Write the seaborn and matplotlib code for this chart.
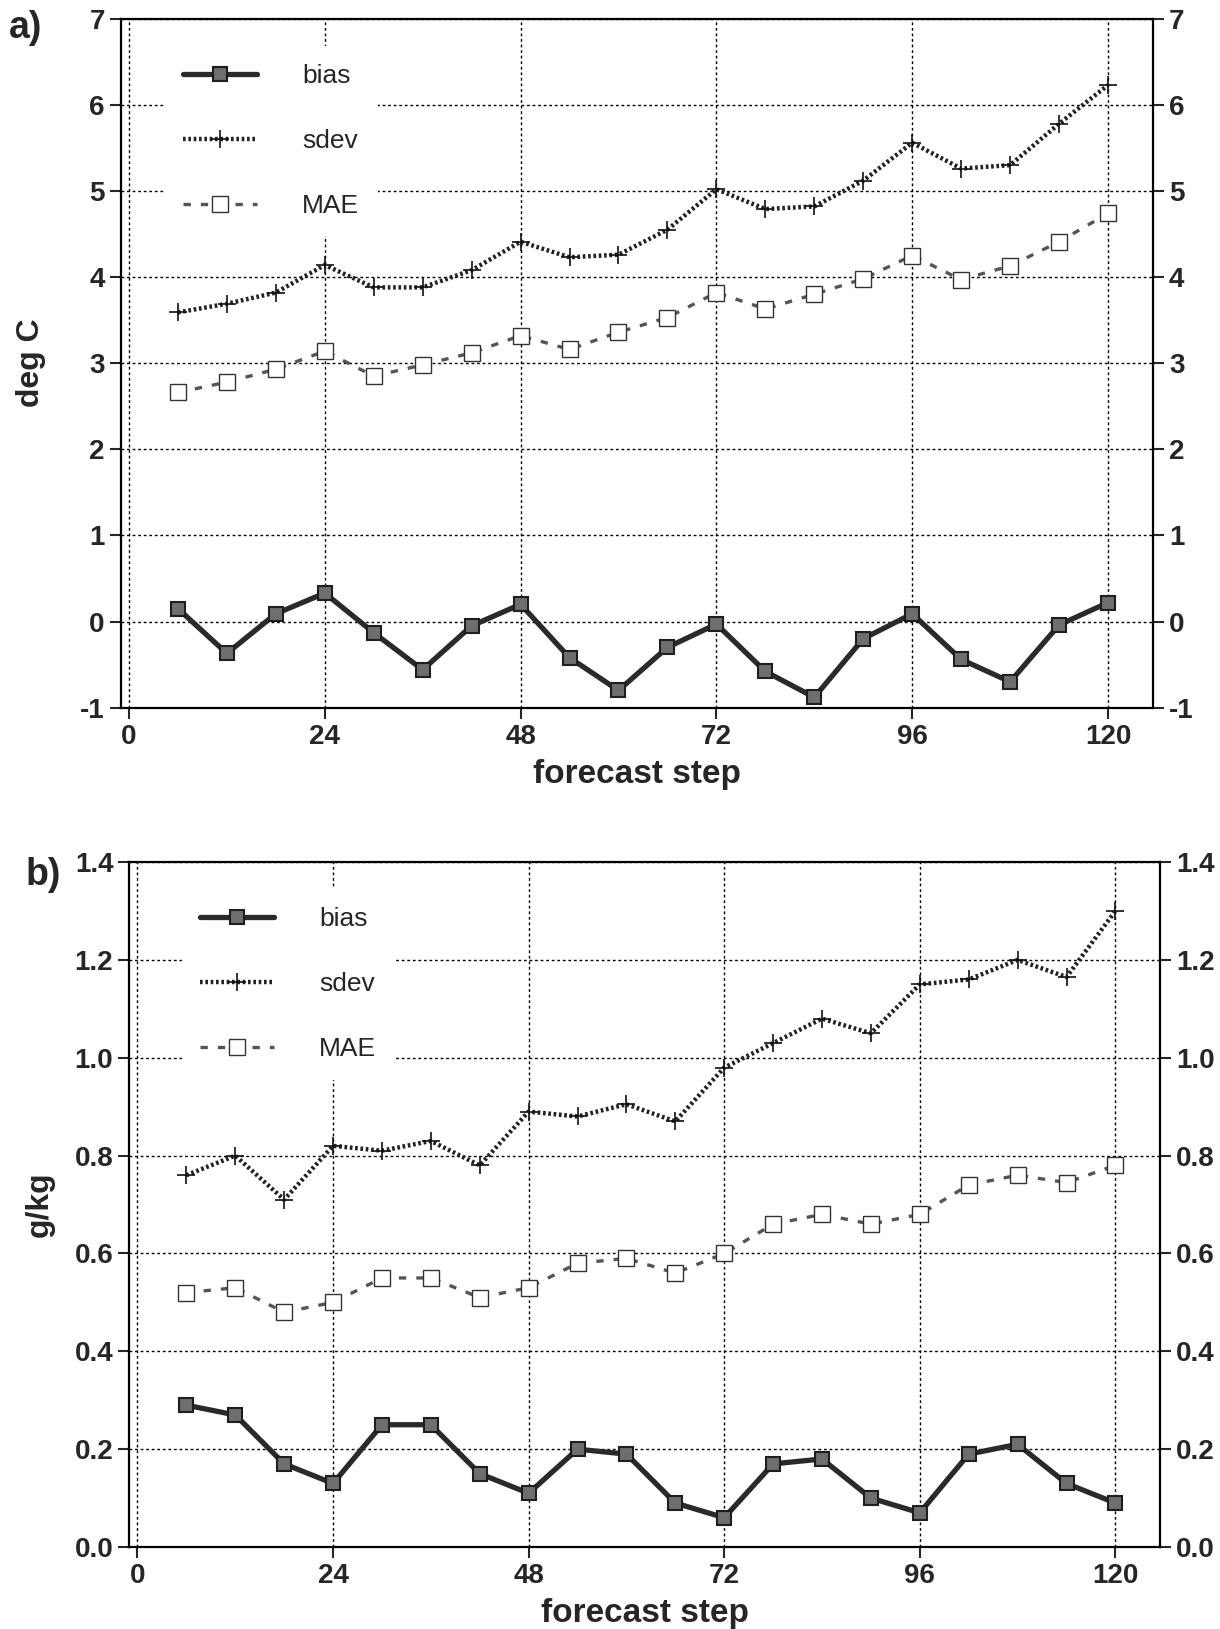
import matplotlib
matplotlib.use("Agg")
from matplotlib import pyplot as plt
import pandas as pd
import seaborn as sns

# forecast steps (hours)
steps = [6, 12, 18, 24, 30, 36, 42, 48, 54, 60, 66, 72, 78, 84, 90, 96, 102, 108, 114, 120]

# a) temperature, deg C
bias_t = [0.15, -0.37, 0.09, 0.33, -0.13, -0.56, -0.05, 0.20, -0.42, -0.80,
          -0.30, -0.03, -0.58, -0.88, -0.20, 0.09, -0.44, -0.70, -0.04, 0.22]
sdev_t = [3.59, 3.69, 3.82, 4.14, 3.88, 3.88, 4.08, 4.41, 4.23, 4.26,
          4.55, 5.02, 4.79, 4.82, 5.12, 5.56, 5.26, 5.30, 5.78, 6.23]
mae_t = [2.66, 2.78, 2.93, 3.14, 2.85, 2.98, 3.12, 3.32, 3.16, 3.36,
         3.53, 3.82, 3.63, 3.80, 3.98, 4.25, 3.97, 4.13, 4.41, 4.74]

# b) humidity, g/kg
bias_q = [0.29, 0.27, 0.17, 0.13, 0.25, 0.25, 0.15, 0.11, 0.20, 0.19,
          0.09, 0.06, 0.17, 0.18, 0.10, 0.07, 0.19, 0.21, 0.13, 0.09]
sdev_q = [0.76, 0.80, 0.71, 0.82, 0.81, 0.83, 0.78, 0.89, 0.88, 0.905,
          0.87, 0.98, 1.03, 1.08, 1.05, 1.15, 1.16, 1.20, 1.165, 1.30]
mae_q = [0.52, 0.53, 0.48, 0.50, 0.55, 0.55, 0.51, 0.53, 0.58, 0.59,
         0.56, 0.60, 0.66, 0.68, 0.66, 0.68, 0.74, 0.76, 0.745, 0.78]

xticks = [0, 24, 48, 72, 96, 120]
yticks_t = [-1, 0, 1, 2, 3, 4, 5, 6, 7]
yticks_q = [0.0, 0.2, 0.4, 0.6, 0.8, 1.0, 1.2, 1.4]

sns.set_style('white')
plt.rcParams['font.family'] = ['Liberation Sans Narrow', 'Liberation Sans', 'DejaVu Sans']

fig = plt.figure(figsize=(12.2, 16.29), dpi=100)
ax1 = fig.add_axes([0.099, 0.5656, 0.846, 0.4229])
ax2 = fig.add_axes([0.106, 0.0503, 0.845, 0.4205])


def panel(ax, bias, sdev, mae, yticks, ylim, ylab, fmt, leg_anchor):
    df = pd.DataFrame({'step': steps, 'bias': bias, 'sdev': sdev, 'MAE': mae})
    sns.lineplot(data=df, x='step', y='bias', ax=ax, color='#2a2a2a', lw=3.8,
                 marker='s', markersize=10, markerfacecolor='#6e6e6e',
                 markeredgecolor='#1e1e1e', markeredgewidth=1.5, label='bias', zorder=5)
    sns.lineplot(data=df, x='step', y='sdev', ax=ax, color='#222222', lw=3.2,
                 linestyle=(0, (0.6, 0.6)), marker='+', markersize=13,
                 markeredgecolor='#111111', markeredgewidth=1.2,
                 label='sdev', zorder=4)
    sns.lineplot(data=df, x='step', y='MAE', ax=ax, color='#555555', lw=2.4,
                 linestyle=(0, (2.2, 3)), marker='s', markersize=11,
                 markerfacecolor='white', markeredgecolor='#333333',
                 markeredgewidth=1.0, label='MAE', zorder=4)
    ax.set_xlim(-1, 125.5)
    ax.set_ylim(*ylim)
    ax.set_xticks(xticks)
    ax.set_yticks(yticks)
    ax.set_yticklabels([fmt.format(v) for v in yticks])
    ax.tick_params(axis='both', direction='out', length=8, width=1.5,
                   labelsize=20, right=True, labelright=True, left=True, bottom=True)
    for lab in ax.get_xticklabels() + ax.get_yticklabels():
        lab.set_fontweight('bold')
    ax.grid(True, color='black', linestyle=(0, (2, 2)), linewidth=1.0)
    for s in ax.spines.values():
        s.set_visible(True)
        s.set_color('black')
        s.set_linewidth(1.6)
    ax.set_xlabel('forecast step', fontsize=24, fontweight='bold')
    ax.xaxis.set_label_coords(0.5, -0.075)
    ax.set_ylabel(ylab, fontsize=23, fontweight='bold')
    ax.yaxis.set_label_coords(-0.072, 0.5)
    leg = ax.legend(loc='upper left', bbox_to_anchor=leg_anchor, fontsize=19,
                    handlelength=2.8, handletextpad=1.7, labelspacing=1.55,
                    borderpad=0.7, frameon=True, facecolor='white',
                    edgecolor='none', framealpha=1.0)
    leg.set_zorder(6)


panel(ax1, bias_t, sdev_t, mae_t, yticks_t, (-1, 7), 'deg C', '{:.0f}', (0.03, 0.98))
panel(ax2, bias_q, sdev_q, mae_q, yticks_q, (0.0, 1.4), 'g/kg', '{:.1f}', (0.038, 0.98))

fig.text(0.007, 0.994, 'a)', fontsize=27, fontweight='bold', va='top', ha='left')
fig.text(0.021, 0.474, 'b)', fontsize=27, fontweight='bold', va='top', ha='left')

fig.savefig('out.png', dpi=100, facecolor='white')
